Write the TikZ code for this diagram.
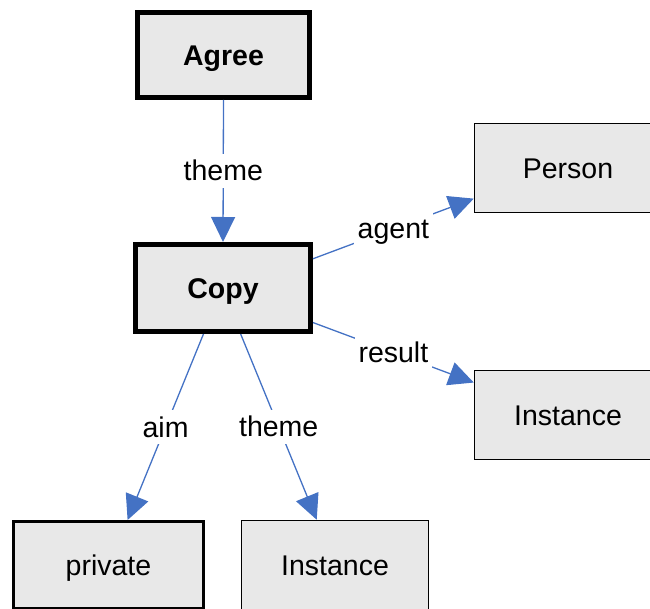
\documentclass[tikz,border=0pt]{standalone}
\usepackage{fontspec}
\setmainfont{Liberation Sans}
\usetikzlibrary{arrows.meta}
\definecolor{edgeblue}{RGB}{68,114,196}
\definecolor{boxgray}{RGB}{232,232,232}
\tikzset{
  concept/.style={draw=black, fill=boxgray, rectangle, inner sep=0pt,
    text height=24pt, text depth=3.4pt,
    font=\fontsize{28.5}{34}\selectfont},
  heavybox/.style={concept, line width=5pt, minimum width=172pt, minimum height=85pt,
    font=\fontsize{28.5}{34}\selectfont\bfseries},
  midbox/.style={concept, line width=3pt, minimum width=190pt, minimum height=87pt},
  plainbox/.style={concept, line width=1.5pt, minimum width=187pt, minimum height=89pt},
  relation/.style={draw=edgeblue, line width=1.3pt,
    -{Triangle[length=25pt,width=24pt,fill=edgeblue]}},
  rel/.style={fill=white, inner sep=4pt, text height=23pt, text depth=3pt,
    font=\fontsize{28.5}{34}\selectfont},
}
\begin{document}
\begin{tikzpicture}[x=1pt, y=-1pt]
  \useasboundingbox (0,0) rectangle (650,609);
  \clip (0,0) rectangle (650,609);

  % concept boxes
  \node[heavybox] (agree)  at (223.5,55)  {Agree};
  \node[heavybox, minimum width=175pt, minimum height=87pt] (copy) at (223,288) {Copy};
  \node[plainbox] (person) at (568,168)   {Person};
  \node[plainbox] (inst1)  at (568,415)   {Instance};
  \node[midbox]   (priv)   at (108.5,565) {private};
  \node[plainbox] (inst2)  at (335,565)   {Instance};

  % relations
  \draw[relation] (agree.south) -- node[rel] {theme} (copy.north);
  \draw[relation] (copy.18.4) -- node[rel] {agent} (person.198.3);
  \draw[relation] (copy.-21) -- node[rel] {result} (inst1.161.2);
  \draw[relation] (copy.247.4) -- node[rel] {aim} (priv.67.6);
  \draw[relation] (copy.291.6) -- node[rel] {theme} (inst2.112.9);
\end{tikzpicture}
\end{document}
